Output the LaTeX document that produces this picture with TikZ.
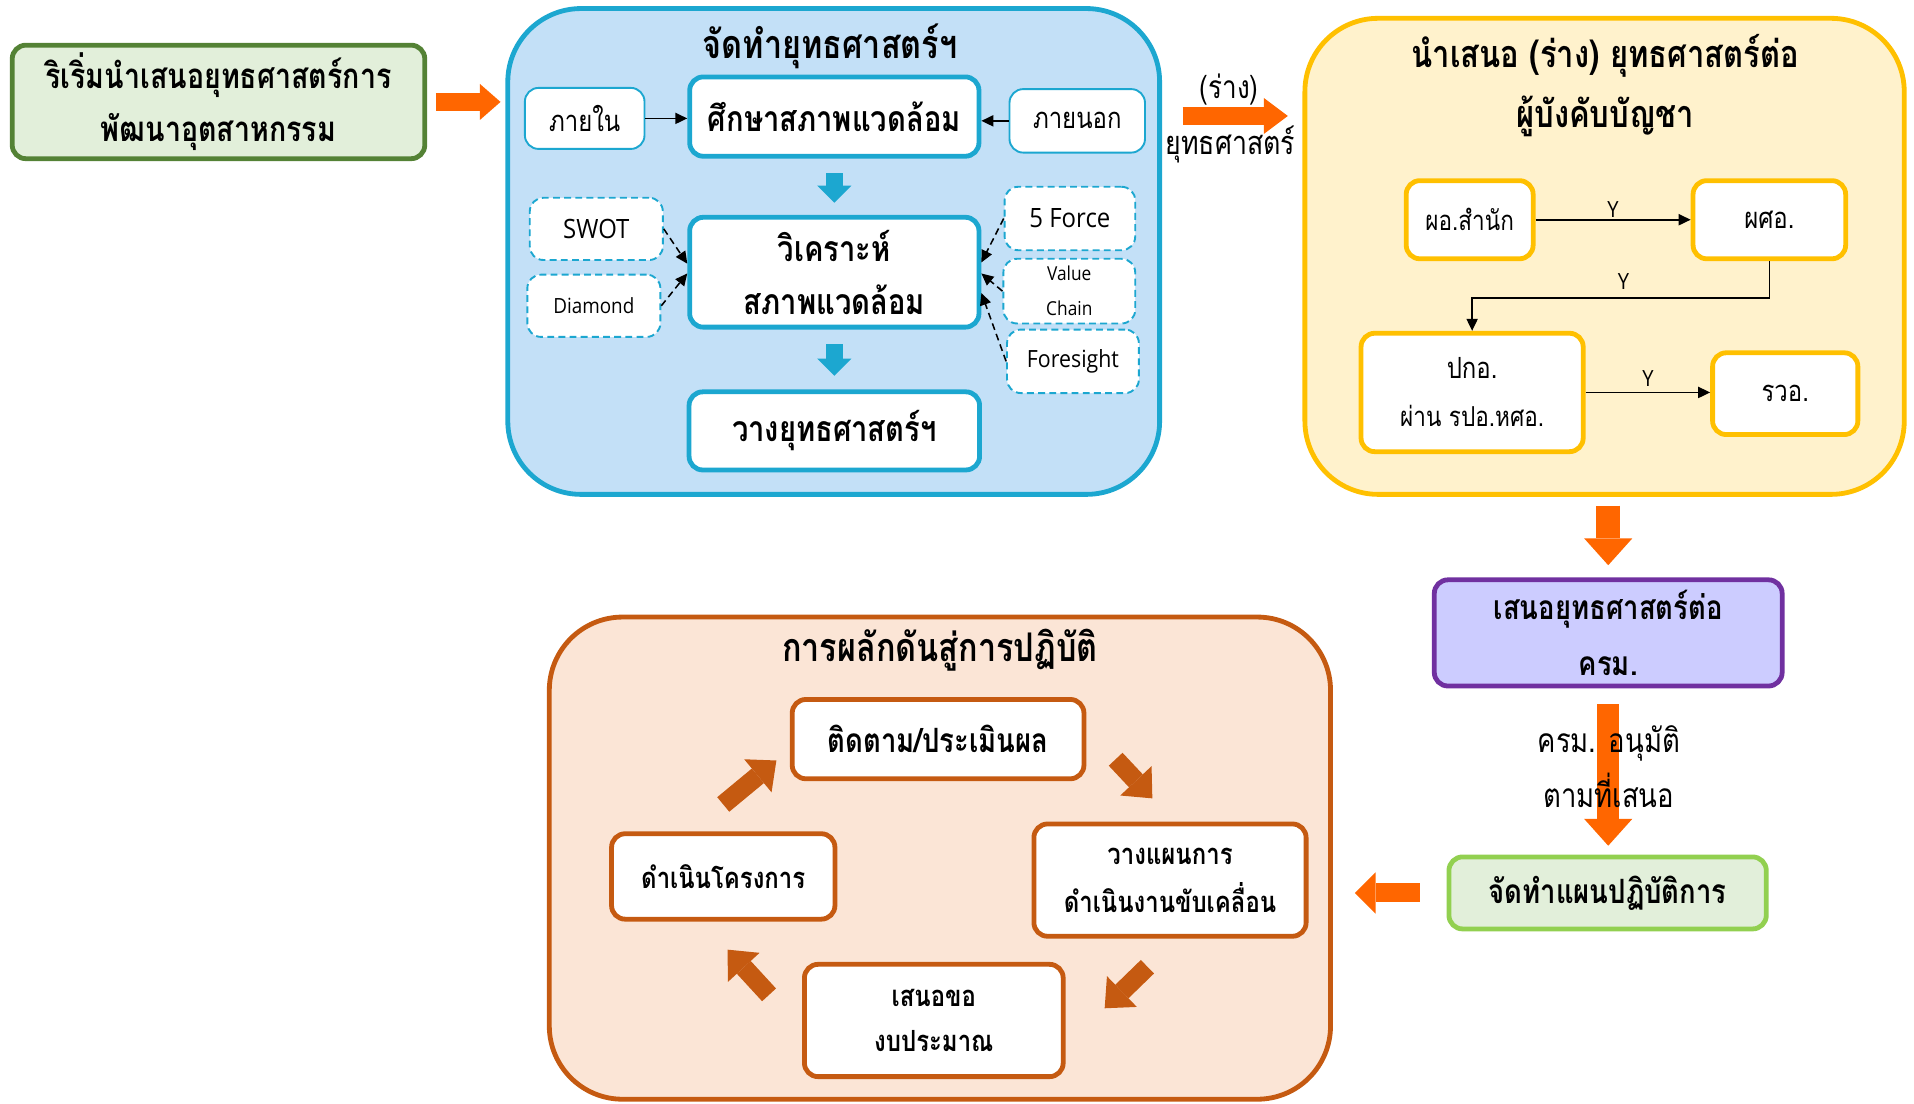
\documentclass[tikz,border=0pt]{standalone}
\usepackage{fontspec}
\setmainfont[Script=Thai, FakeStretch=0.82]{Loma}
\newfontfamily\latinf[FakeStretch=0.9]{Open Sans}
\usetikzlibrary{arrows.meta,calc}
\definecolor{orA}{HTML}{FF6600}
\definecolor{bluB}{HTML}{1CA7D0}
\definecolor{bluF}{HTML}{C3E0F7}
\definecolor{yelB}{HTML}{FFC000}
\definecolor{yelF}{HTML}{FFF2CC}
\definecolor{grnD}{HTML}{548235}
\definecolor{grnF}{HTML}{E2EFDA}
\definecolor{grnL}{HTML}{92D050}
\definecolor{purB}{HTML}{7030A0}
\definecolor{purF}{HTML}{CCCCFF}
\definecolor{brnB}{HTML}{C55A11}
\definecolor{brnF}{HTML}{FBE5D6}
\tikzset{
  sz/.style 2 args={minimum width=#1*0.025cm, minimum height=#2*0.025cm},
  base/.style={rounded corners=0.28cm, inner sep=0pt, align=center, text=black},
  cont/.style={rounded corners=1.5cm, line width=2.8pt, inner sep=0pt},
  thickbox/.style={base, line width=2.8pt, fill=white},
  bluebox/.style={thickbox, draw=bluB},
  thinblue/.style={base, draw=bluB, line width=1.1pt, fill=white},
  dashblue/.style={base, draw=bluB, line width=1.1pt, fill=white, dash pattern=on 4pt off 2.5pt},
  yelbox/.style={thickbox, draw=yelB},
  brnbox/.style={thickbox, draw=brnB},
  blk/.style n args={4}{draw=#1, line width=#2, line cap=butt, -{Triangle[length=#3, width=#4, line width=0pt]}},
  plainarr/.style={draw=black, line width=0.9pt, -{Triangle[length=7pt, width=6.5pt]}},
  dasharr/.style={draw=black, line width=0.9pt, dash pattern=on 4pt off 2.5pt, -{Triangle[length=7pt, width=6.5pt]}},
  lbl/.style={inner sep=0pt, align=center, text=black},
  ylbl/.style={lbl, font=\latinf\fontsize{13}{15}\selectfont},
}
\begin{document}
\begin{tikzpicture}[x=0.025cm, y=-0.025cm]
\useasboundingbox (0,0) rectangle (1568,904);

% ---------- start box ----------
\node[base, draw=grnD, fill=grnF, line width=2.8pt, sz={338}{93},
      font=\fontsize{20.3}{31}\selectfont\bfseries] (start) at (179,83.5)
      {ริเริ่มนำเสนอยุทธศาสตร์การ\\พัฒนาอุตสาหกรรม};

% ---------- blue container ----------
\node[cont, draw=bluB, fill=bluF, sz={534}{398}] (blue) at (683,206) {};
\node[lbl, font=\fontsize{23}{31}\selectfont\bfseries] (bluetitle) at (680,38) {จัดทำยุทธศาสตร์ฯ};

\node[thinblue, sz={98}{50}, font=\fontsize{17}{20}\selectfont] (inner) at (479,97) {ภายใน};
\node[bluebox, sz={237}{65}, font=\fontsize{20.7}{31}\selectfont\bfseries] (study) at (683.5,95.5) {ศึกษาสภาพแวดล้อม};
\node[thinblue, sz={111}{52}, font=\fontsize{17}{20}\selectfont] (outer) at (882.5,99) {ภายนอก};

\node[dashblue, sz={109}{51}, font=\latinf\fontsize{15.5}{18}\selectfont] (swot) at (488.5,187.5) {SWOT};
\node[dashblue, sz={109}{51}, font=\latinf\fontsize{12.2}{14}\selectfont] (dia) at (486.5,250.5) {Diamond};
\node[bluebox, sz={237}{90}, font=\fontsize{20.7}{31}\selectfont\bfseries] (anal) at (683.5,223) {วิเคราะห์\\สภาพแวดล้อม};
\node[dashblue, sz={107}{52}, font=\latinf\fontsize{15.5}{18}\selectfont] (five) at (876.5,179) {5 Force};
\node[dashblue, sz={108}{53}, font=\latinf\fontsize{11.2}{20.5}\selectfont] (vc) at (876,238.5) {Value\\Chain};
\node[dashblue, sz={108}{52}, font=\latinf\fontsize{13.8}{16}\selectfont] (fs) at (879,296) {Foresight};
\node[bluebox, sz={238}{64}, font=\fontsize{20.7}{31}\selectfont\bfseries] (vang) at (683.5,353) {วางยุทธศาสตร์ฯ};

\draw[plainarr] (inner.east) -- (inner.east -| study.west);
\draw[plainarr] (outer.west) -- (outer.west -| study.east);
\draw[dasharr] (swot.east) -- ($(anal.west)+(0,-7)$);
\draw[dasharr] (dia.east) -- ($(anal.west)+(0,1)$);
\draw[dasharr] (five.west) -- ($(anal.east)+(0,-8)$);
\draw[dasharr] (vc.west) -- ($(anal.east)+(0,1)$);
\draw[dasharr] (fs.west) -- ($(anal.east)+(0,17)$);
\draw[blk={bluB}{10pt}{10pt}{20pt}, shorten <=0.3cm, shorten >=0.25cm] (study.south) -- (study.south |- anal.north);
\draw[blk={bluB}{10pt}{10pt}{20pt}, shorten <=0.3cm, shorten >=0.28cm] (anal.south) -- (anal.south |- vang.north);

% start -> blue
\draw[blk={orA}{10.6pt}{12pt}{21pt}, shorten <=0.18cm, shorten >=0.1cm] (start.east) -- (start.east -| blue.west);

% ---------- yellow container ----------
\node[cont, draw=yelB, fill=yelF, sz={491}{390}] (yel) at (1314.5,210) {};
\node[lbl, font=\fontsize{22}{35}\selectfont\bfseries] (yeltitle) at (1315,70) {นำเสนอ (ร่าง) ยุทธศาสตร์ต่อ\\ผู้บังคับบัญชา};

\node[yelbox, sz={104}{64}, font=\fontsize{16}{20}\selectfont] (pod) at (1204,180) {ผอ.สำนัก};
\node[yelbox, sz={125}{64}, font=\fontsize{17}{20}\selectfont] (pso) at (1449.5,180) {ผศอ.};
\node[yelbox, sz={182}{97}, font=\fontsize{17}{28}\selectfont] (pko) at (1206,321.5) {ปกอ.\\{\fontsize{16}{28}\selectfont ผ่าน รปอ.หศอ.}};
\node[yelbox, sz={119}{67}, font=\fontsize{17}{20}\selectfont] (rwo) at (1462.5,322.5) {รวอ.};

\draw[plainarr] (pod.east) -- node[ylbl, above=1pt] (y1) {Y} (pso.west);
\draw[plainarr] (pso.south) -- ++(0,30) coordinate (bend) -| (pko.north);
\node[ylbl] (y2) at (1330,231) {Y};
\draw[plainarr] (pko.east) -- node[ylbl, above=3pt] (y3) {Y} (pko.east -| rwo.west);

% draft arrow between containers
\coordinate (dft) at (1010,95);
\draw[blk={orA}{10.6pt}{14pt}{21pt}, shorten <=0.42cm, shorten >=0.3cm] (blue.east |- dft) -- (yel.west |- dft);
\node[lbl, font=\fontsize{18.5}{20}\selectfont] (drafttxt) at (1007,73) {(ร่าง)};
\node[lbl, font=\fontsize{19}{20}\selectfont] (strattxt) at (1008,118) {ยุทธศาสตร์};

% ---------- purple ----------
\node[base, draw=purB, fill=purF, line width=2.8pt, sz={285}{87}, font=\fontsize{19.5}{33}\selectfont\bfseries] (pur) at (1317.5,518.5) {เสนอยุทธศาสตร์ต่อ\\ครม.};
\draw[blk={orA}{14pt}{15.6pt}{28pt}, shorten <=0.18cm, shorten >=0.25cm] (pur.north |- yel.south) -- (pur.north);

% ---------- plan ----------
\node[base, draw=grnL, fill=grnF, line width=2.8pt, sz={260}{59}, font=\fontsize{19.5}{31}\selectfont\bfseries] (plan) at (1317,731.5) {จัดทำแผนปฏิบัติการ};
\draw[blk={orA}{13pt}{15.6pt}{28pt}, shorten <=0.32cm, shorten >=0.18cm] (pur.south) -- (pur.south |- plan.north);
\node[lbl, font=\fontsize{19.5}{32}\selectfont] (approve) at (1318,628) {ครม. อนุมัติ\\ตามที่เสนอ};

% ---------- brown container ----------
\node[cont, draw=brnB, fill=brnF, sz={640}{395}] (brn) at (770,703) {};
\node[lbl, font=\fontsize{23}{31}\selectfont\bfseries] (brntitle) at (770,533) {การผลักดันสู่การปฏิบัติ};
\draw[blk={orA}{11pt}{12pt}{24pt}, shorten <=0.55cm, shorten >=0.45cm] (plan.west) -- (plan.west -| brn.east);

\node[brnbox, sz={239}{65}, font=\fontsize{19.5}{28}\selectfont\bfseries] (track) at (768.5,605.5) {ติดตาม/ประเมินผล};
\node[brnbox, sz={223}{92}, font=\fontsize{17}{28}\selectfont\bfseries] (drive) at (958.5,721) {วางแผนการ\\ดำเนินงานขับเคลื่อน};
\node[brnbox, sz={212}{92}, font=\fontsize{17}{26}\selectfont\bfseries] (budget) at (765,836) {เสนอขอ\\งบประมาณ};
\node[brnbox, sz={183}{70}, font=\fontsize{17}{28}\selectfont\bfseries] (proj) at (592.5,718) {ดำเนินโครงการ};

\draw[blk={brnB}{11pt}{14pt}{25pt}] ($(track.south east)+(24,-18)$) -- ($(drive.north west)+(99,-19)$);
\draw[blk={brnB}{11pt}{14pt}{25pt}] ($(drive.south)+(-18.5,23)$) -- ($(budget.east)+(32,-10)$);
\draw[blk={brnB}{11pt}{14pt}{25pt}] ($(budget.west)+(-27,-21)$) -- ($(proj.south)+(3.5,23)$);
\draw[blk={brnB}{11pt}{14pt}{25pt}] ($(proj.north)+(0,-22)$) -- ($(track.west)+(-11,17.5)$);
\end{tikzpicture}
\end{document}
